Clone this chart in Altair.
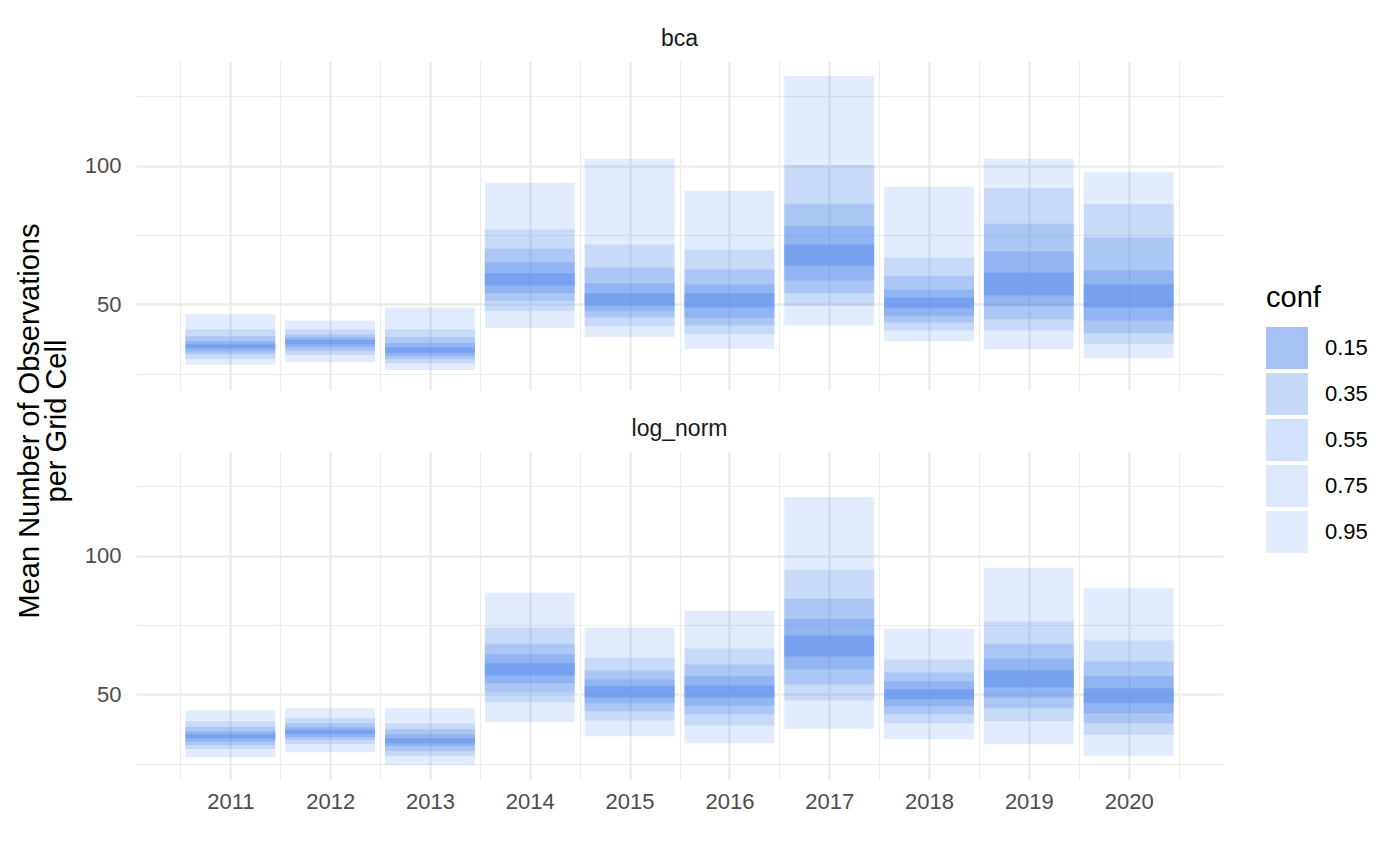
import altair as alt
import pandas as pd

FONT = "Liberation Sans"
BLUE = "#6495ED"

YEARS = list(range(2011, 2021))
METHODS = ["bca", "log_norm"]
CONF_LEVELS = ["0.15", "0.35", "0.55", "0.75", "0.95"]
CONF_ALPHA = [0.57, 0.37, 0.28, 0.21, 0.18]

# bca: upper / lower bounds per confidence level (years 2011..2020)
BCA_HI_95 = [46.4, 44.2, 48.9, 93.9, 102.5, 91.0, 132.4, 92.4, 102.5, 97.8]
BCA_HI_75 = [41.0, 41.0, 41.0, 77.0, 71.6, 69.8, 100.2, 66.9, 92.1, 86.3]
BCA_HI_55 = [38.5, 39.2, 38.1, 70.1, 63.3, 62.6, 86.3, 60.1, 79.1, 74.1]
BCA_HI_35 = [36.7, 38.0, 36.0, 65.1, 57.6, 57.2, 78.4, 55.4, 69.1, 62.2]
BCA_HI_15 = [35.6, 37.1, 34.5, 61.2, 54.0, 54.0, 71.6, 52.5, 61.5, 57.2]
BCA_LO_15 = [34.2, 35.6, 32.4, 56.8, 49.6, 48.9, 64.0, 48.6, 53.2, 48.9]
BCA_LO_35 = [33.0, 34.5, 31.3, 54.0, 47.5, 45.0, 58.6, 45.7, 49.3, 44.2]
BCA_LO_55 = [32.0, 33.1, 30.2, 51.1, 45.3, 42.4, 54.0, 43.5, 44.6, 39.6]
BCA_LO_75 = [30.2, 31.7, 28.8, 47.5, 42.1, 39.2, 49.6, 40.6, 40.6, 35.6]
BCA_LO_95 = [28.2, 29.1, 26.3, 41.5, 38.2, 33.9, 42.4, 36.7, 33.8, 30.6]

# log_norm
LN_HI_95 = [44.2, 45.0, 45.0, 86.7, 74.1, 80.2, 121.2, 73.7, 95.7, 88.5]
LN_HI_75 = [40.3, 41.4, 39.6, 74.1, 63.3, 66.5, 95.0, 62.6, 76.3, 69.4]
LN_HI_55 = [38.2, 39.6, 37.4, 68.3, 58.6, 60.8, 84.5, 57.9, 68.3, 61.9]
LN_HI_35 = [36.7, 38.1, 35.6, 64.4, 55.4, 56.5, 77.3, 54.7, 62.9, 56.5]
LN_HI_15 = [35.6, 37.1, 34.2, 61.2, 52.9, 53.2, 71.2, 51.8, 58.6, 52.2]
LN_LO_15 = [34.2, 35.6, 32.4, 56.8, 48.9, 48.9, 63.7, 48.2, 52.5, 46.8]
LN_LO_35 = [33.0, 34.5, 31.3, 54.0, 46.8, 46.0, 59.0, 45.7, 48.9, 43.2]
LN_LO_55 = [31.7, 33.5, 29.5, 50.7, 43.9, 42.8, 53.6, 42.8, 45.0, 39.6]
LN_LO_75 = [30.2, 32.0, 27.7, 47.1, 40.6, 38.8, 47.8, 39.6, 40.3, 35.3]
LN_LO_95 = [27.3, 29.1, 24.5, 40.0, 34.9, 32.4, 37.6, 33.8, 32.0, 27.7]

BOUNDS = {
    "bca": {
        "0.15": (BCA_LO_15, BCA_HI_15), "0.35": (BCA_LO_35, BCA_HI_35),
        "0.55": (BCA_LO_55, BCA_HI_55), "0.75": (BCA_LO_75, BCA_HI_75),
        "0.95": (BCA_LO_95, BCA_HI_95),
    },
    "log_norm": {
        "0.15": (LN_LO_15, LN_HI_15), "0.35": (LN_LO_35, LN_HI_35),
        "0.55": (LN_LO_55, LN_HI_55), "0.75": (LN_LO_75, LN_HI_75),
        "0.95": (LN_LO_95, LN_HI_95),
    },
}

rows = []
for m in METHODS:
    for c in CONF_LEVELS:
        lo, hi = BOUNDS[m][c]
        for i, yr in enumerate(YEARS):
            rows.append({"method": m, "conf": c, "year": yr, "lo": lo[i], "hi": hi[i]})
df = pd.DataFrame(rows)

# ggplot-like 5% expansion of the continuous scales
ymin, ymax = df["lo"].min(), df["hi"].max()
yexp = (ymax - ymin) * 0.05
YDOM = [ymin - yexp, ymax + yexp]
xmin, xmax = min(YEARS) - 0.45, max(YEARS) + 0.45
xexp = (xmax - xmin) * 0.05
XDOM = [xmin - xexp, xmax + xexp]

X_TICKS = sorted(set([min(YEARS) - 0.5] + [y + 0.5 for y in YEARS] + YEARS))
Y_TICKS = [25, 50, 75, 100, 125]

GRID = "#ebebeb"
PW, PH = 1087, 329


def panel(method, first):
    x_axis = alt.Axis(
        values=X_TICKS, ticks=False, domain=False, title=None,
        grid=True, gridColor=GRID,
        gridWidth={"condition": {"test": "datum.value % 1 == 0", "value": 2.4}, "value": 1.2},
        labels=not first,
        labelExpr="datum.value % 1 == 0 ? format(datum.value, 'd') : ''",
        labelFont=FONT, labelFontSize=22, labelColor="#4d4d4d",
        labelPadding=11, labelFlush=False, labelOverlap=False,
    )
    y_kwargs = dict(
        values=Y_TICKS, ticks=False, domain=False,
        grid=True, gridColor=GRID,
        gridWidth={"condition": {"test": "datum.value % 50 == 0", "value": 2.4}, "value": 1.2},
        labelExpr="datum.value % 50 == 0 ? datum.label : ''",
        labelFont=FONT, labelFontSize=22, labelColor="#4d4d4d", labelPadding=15,
    )
    if first:
        y_axis = alt.Axis(
            title=["Mean Number of Observations", "per Grid Cell"],
            titleFont=FONT, titleFontSize=29, titleFontWeight="normal", titleColor="black",
            titleLineHeight=27, titleY=(PH * 2 + 61) / 2, titlePadding=13,
            **y_kwargs,
        )
    else:
        y_axis = alt.Axis(title=None, **y_kwargs)

    return alt.Chart(df[df["method"] == method]).transform_calculate(
        x0="datum.year - 0.45", x1="datum.year + 0.45"
    ).mark_rect(color=BLUE, strokeWidth=0).encode(
        x=alt.X("x0:Q", scale=alt.Scale(domain=XDOM, nice=False, zero=False), axis=x_axis),
        x2="x1:Q",
        y=alt.Y("lo:Q", scale=alt.Scale(domain=YDOM, nice=False, zero=False), axis=y_axis),
        y2="hi:Q",
        opacity=alt.Opacity(
            "conf:O",
            scale=alt.Scale(type="ordinal", domain=CONF_LEVELS, range=CONF_ALPHA),
            legend=alt.Legend(
                title="conf", orient="none", legendX=1130, legendY=223,
                symbolType="square", symbolSize=1764, symbolFillColor=BLUE,
                symbolStrokeWidth=0, rowPadding=4, labelOffset=17, padding=0,
                titleFont=FONT, titleFontSize=29, titleFontWeight="normal", titleColor="black",
                titlePadding=14, labelFont=FONT, labelFontSize=22, labelColor="black",
            ),
        ),
    ).properties(
        width=PW, height=PH,
        title=alt.TitleParams(
            method, font=FONT, fontSize=23, fontWeight="normal", color="#1a1a1a",
            anchor="middle", baseline="alphabetic", offset=-8,
        ),
    )


chart = alt.vconcat(panel("bca", True), panel("log_norm", False), spacing=61, bounds="flush").properties(
    padding={"left": 7, "top": 20, "right": 0, "bottom": 0},
    background="white",
).configure_view(strokeWidth=0)

chart.save("out.html", embed_options={"renderer": "svg", "actions": False})
